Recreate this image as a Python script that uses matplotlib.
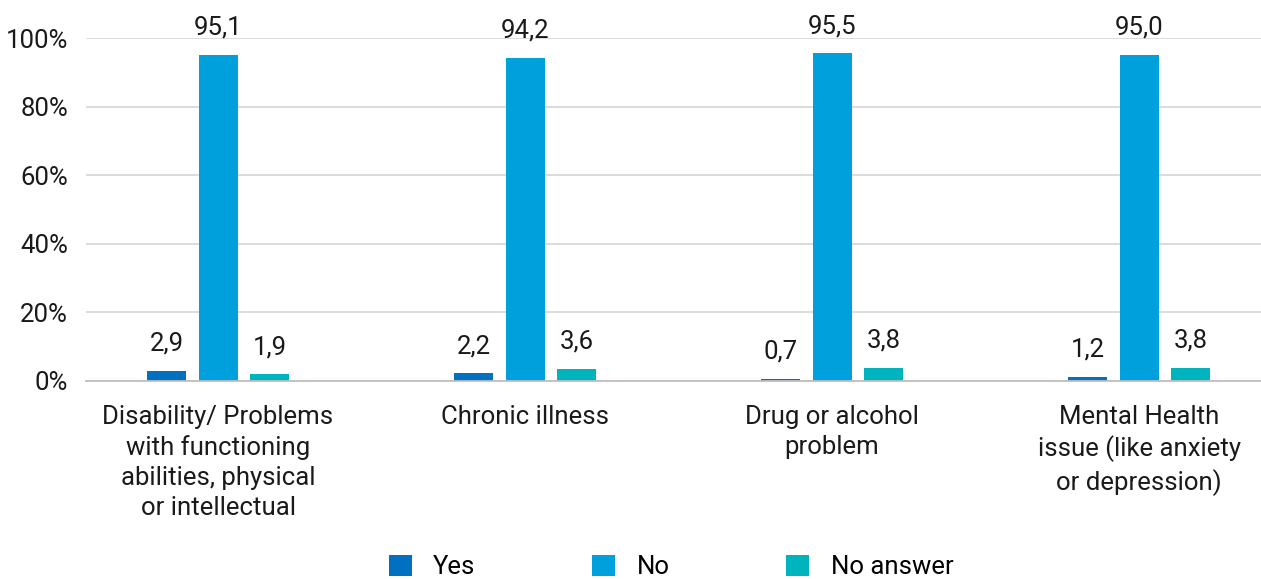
import matplotlib
matplotlib.use("Agg")
import matplotlib.pyplot as plt
import numpy as np

categories = [
    "Disability/ Problems\nwith functioning\nabilities, physical\nor intellectual",
    "Chronic illness",
    "Drug or alcohol\nproblem",
    "Mental Health\nissue (like anxiety\nor depression)",
]
series_names = ["Yes", "No", "No answer"]
yes_values = [2.9, 2.2, 0.7, 1.2]
no_values = [95.1, 94.2, 95.5, 95.0]
no_answer_values = [1.9, 3.6, 3.8, 3.8]
y_ticks = [0, 20, 40, 60, 80, 100]
y_tick_labels = ["0%", "20%", "40%", "60%", "80%", "100%"]

colors = ["#0070C0", "#00A0DC", "#00B4BE"]
text_color = "#1a1a1a"
fs = 18.5

plt.rcParams["font.family"] = ["Roboto", "DejaVu Sans"]

fig = plt.figure(figsize=(12.61, 5.79), dpi=100)
ax = fig.add_axes([86 / 1261, (579 - 381) / 579, (1261 - 86) / 1261, (381 - 38) / 579])

x = np.arange(len(categories))
width = 0.127
offset = 0.168
all_series = [yes_values, no_values, no_answer_values]
for i, (vals, name, col) in enumerate(zip(all_series, series_names, colors)):
    pos = x + (i - 1) * offset
    ax.bar(pos, vals, width=width, color=col, label=name, zorder=3)
    for px, v in zip(pos, vals):
        ax.annotate(f"{v:.1f}".replace(".", ","), (px, v), xytext=(0, 11),
                    textcoords="offset points", ha="center", va="bottom",
                    fontsize=fs, color=text_color, annotation_clip=False)

ax.set_xlim(-0.43, 3.397)
ax.set_ylim(0, 100)
ax.set_yticks(y_ticks)
ax.set_yticklabels(y_tick_labels, fontsize=fs, color=text_color)
ax.set_xticks(x)
ax.set_xticklabels(categories, fontsize=fs, color=text_color, linespacing=1.3)
ax.tick_params(axis="both", length=0)
ax.tick_params(axis="y", pad=13)
ax.tick_params(axis="x", pad=17.5)

ax.grid(axis="y", color="#D9D9D9", linewidth=1.3, zorder=0)
for s in ["top", "right", "left"]:
    ax.spines[s].set_visible(False)
ax.spines["bottom"].set_color("#BFBFBF")
ax.spines["bottom"].set_linewidth(1.3)
ax.spines["bottom"].set_zorder(4)

fig.legend(loc="center", bbox_to_anchor=(671 / 1261, 1 - 567 / 579), ncol=3,
           frameon=False, fontsize=fs, handlelength=0.9, handleheight=0.9,
           handletextpad=0.82, columnspacing=4.55)

fig.savefig("out.png", dpi=100)
